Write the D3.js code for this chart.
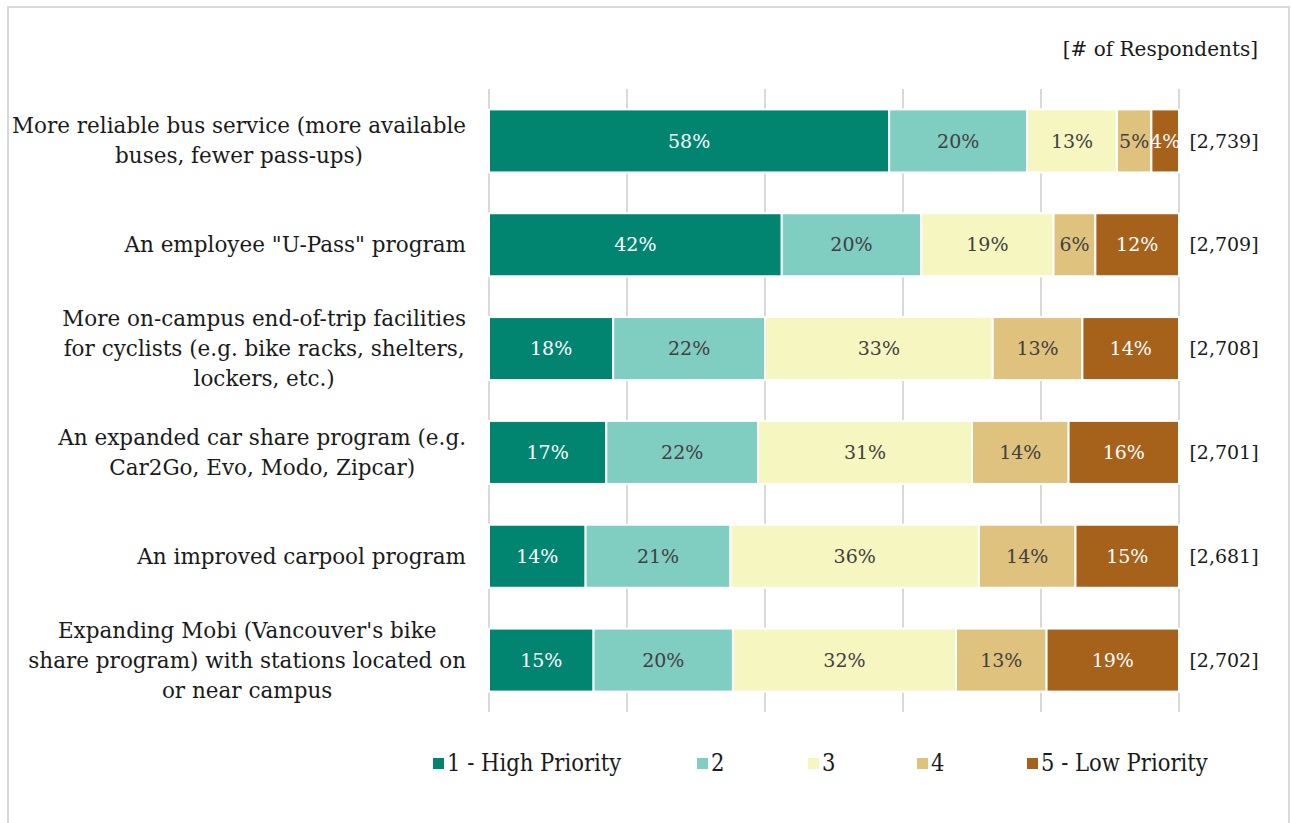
<!DOCTYPE html>
<html>
<head>
<meta charset="utf-8">
<script src="https://cdn.jsdelivr.net/npm/d3@7"></script>
<style>
  html, body { margin: 0; padding: 0; background: #fff; }
  svg { display: block; }
</style>
</head>
<body>
<svg id="chart" width="1291" height="823"></svg>
<script>
// Transportation priorities, share of respondents at each priority level
const categories = [
  "More reliable bus service (more available\nbuses, fewer pass-ups)",
  "An employee \"U-Pass\" program",
  "More on-campus end-of-trip facilities\nfor cyclists (e.g. bike racks, shelters,\nlockers, etc.)",
  "An expanded car share program (e.g.\nCar2Go, Evo, Modo, Zipcar)",
  "An improved carpool program",
  "Expanding Mobi (Vancouver's bike\nshare program) with stations located on\nor near campus"
];
const levels = ["1 - High Priority", "2", "3", "4", "5 - Low Priority"];
const priority1 = [58, 42, 18, 17, 14, 15];
const priority2 = [20, 20, 22, 22, 21, 20];
const priority3 = [13, 19, 33, 31, 36, 32];
const priority4 = [5, 6, 13, 14, 14, 13];
const priority5 = [4, 12, 14, 16, 15, 19];
const respondents = ["[2,739]", "[2,709]", "[2,708]", "[2,701]", "[2,681]", "[2,702]"];
const colors = ["#018571", "#80cdc1", "#f6f6c1", "#dfc27d", "#a6611a"];
const labelColors = ["#ffffff", "#404040", "#404040", "#404040", "#ffffff"];

const series = [priority1, priority2, priority3, priority4, priority5];
const rows = categories.map((c, i) => {
  const r = { category: c, n: respondents[i] };
  levels.forEach((l, j) => { r[l] = series[j][i]; });
  return r;
});

const svg = d3.select("#chart");
const serif = "'DejaVu Serif', serif";

// frame
svg.append("rect")
  .attr("x", 8).attr("y", 7).attr("width", 1281).attr("height", 830)
  .attr("fill", "none").attr("stroke", "#d9d9d9").attr("stroke-width", 2);

const x = d3.scaleLinear().domain([0, 1]).range([489, 1179]);
const y = d3.scaleBand().domain(categories).range([89, 712])
  .paddingInner(0.393).paddingOuter(0.1965);

// vertical gridlines
svg.append("g")
  .selectAll("line")
  .data(x.ticks(5))
  .join("line")
  .attr("x1", d => x(d)).attr("x2", d => x(d))
  .attr("y1", 89).attr("y2", 712)
  .attr("stroke", "#d9d9d9").attr("stroke-width", 2);

const stack = d3.stack().keys(levels).offset(d3.stackOffsetExpand);
const stacked = stack(rows);

const layer = svg.append("g")
  .selectAll("g")
  .data(stacked)
  .join("g")
  .attr("fill", (d, i) => colors[i]);

layer.selectAll("rect")
  .data(d => d)
  .join("rect")
  .attr("x", d => x(d[0]))
  .attr("y", d => y(d.data.category))
  .attr("width", d => x(d[1]) - x(d[0]))
  .attr("height", y.bandwidth())
  .attr("stroke", "#fff").attr("stroke-width", 2);

// value labels
stacked.forEach((s, i) => {
  svg.append("g")
    .selectAll("text")
    .data(s)
    .join("text")
    .attr("x", d => (x(d[0]) + x(d[1])) / 2)
    .attr("y", d => y(d.data.category) + y.bandwidth() / 2)
    .attr("dy", "0.35em")
    .attr("text-anchor", "middle")
    .attr("font-family", serif)
    .attr("font-size", 19)
    .attr("fill", labelColors[i])
    .text(d => d.data[s.key] + "%");
});

// category labels: centred lines, block right-aligned to the axis
categories.forEach(c => {
  const lines = c.split("\n");
  const g = svg.append("g");
  const lh = 30;
  const cy = y(c) + y.bandwidth() / 2;
  const texts = lines.map((t, k) => g.append("text")
    .attr("y", cy + (k - (lines.length - 1) / 2) * lh)
    .attr("dy", "0.35em")
    .attr("font-family", serif)
    .attr("font-size", 21.5)
    .attr("fill", "#1a1a1a")
    .text(t));
  const w = d3.max(texts, t => t.node().getComputedTextLength());
  const cx = 466 - w / 2;
  texts.forEach(t => t.attr("x", cx).attr("text-anchor", "middle"));
});

// respondent counts
svg.append("g")
  .selectAll("text")
  .data(rows)
  .join("text")
  .attr("x", 1224)
  .attr("y", d => y(d.category) + y.bandwidth() / 2)
  .attr("dy", "0.35em")
  .attr("text-anchor", "middle")
  .attr("font-family", serif)
  .attr("font-size", 19)
  .attr("fill", "#1a1a1a")
  .text(d => d.n);

svg.append("text")
  .attr("x", 1258).attr("y", 49)
  .attr("dy", "0.35em")
  .attr("text-anchor", "end")
  .attr("font-family", serif)
  .attr("font-size", 20)
  .attr("fill", "#1a1a1a")
  .text("[# of Respondents]");

// legend
const legendX = [433, 697, 808, 917, 1027];
const legend = svg.append("g")
  .selectAll("g")
  .data(levels)
  .join("g")
  .attr("transform", (d, i) => `translate(${legendX[i]},763)`);
legend.append("rect")
  .attr("x", 0).attr("y", -5).attr("width", 11).attr("height", 11)
  .attr("fill", (d, i) => colors[i]);
legend.append("text")
  .attr("x", 14).attr("dy", "0.35em")
  .attr("font-family", "'DejaVu Serif Condensed', 'DejaVu Serif', serif")
  .attr("font-stretch", "condensed")
  .attr("font-size", 23.5)
  .attr("fill", "#1a1a1a")
  .text(d => d);
</script>
</body>
</html>
